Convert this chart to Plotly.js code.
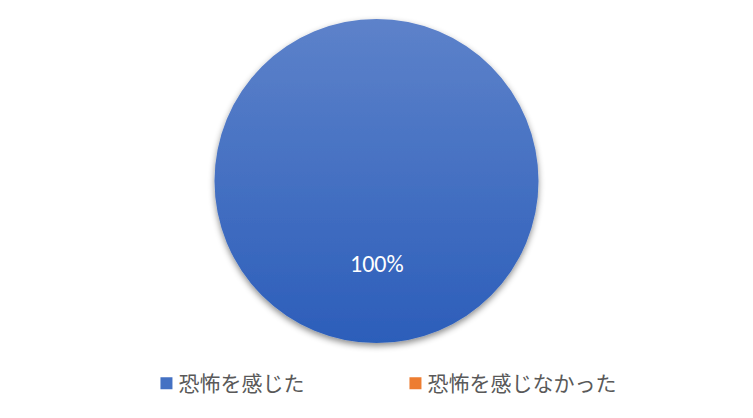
<!DOCTYPE html>
<html>
<head>
<meta charset="utf-8">
<script src="https://cdn.plot.ly/plotly-3.0.1.min.js"></script>
<style>
  html, body { margin: 0; padding: 0; background: #fff; }
  #chart { width: 753px; height: 418px; }
</style>
</head>
<body>
<div id="chart"></div>
<script>
const labels = ['恐怖を感じた', '恐怖を感じなかった']
const values = [100, 0]
const colors = ['#4471c3', '#ed7d31']

const total = values.reduce((a, b) => a + b, 0)
const texts = values.map(v => v > 0 ? Math.round(v / total * 100) + '%' : '')

const trace = {
  type: 'pie',
  labels: labels,
  values: values,
  textinfo: 'none',
  marker: { colors: colors, line: { width: 0 } },
  sort: false,
  direction: 'clockwise',
  rotation: 0,
  hoverinfo: 'none'
}

// Excel places the single 100% label below the centre of the pie
const annotations = texts.filter(t => t).map(t => ({
  text: t,
  xref: 'paper', yref: 'paper',
  x: 0.5, y: 0.244,
  xanchor: 'center', yanchor: 'middle',
  showarrow: false,
  font: { color: '#ffffff', size: 24, family: 'Carlito, "Liberation Sans", "Noto Sans", sans-serif' }
}))

const layout = {
  width: 753,
  height: 418,
  margin: { l: 0, r: 0, t: 19, b: 75 },
  paper_bgcolor: '#ffffff',
  showlegend: true,
  annotations: annotations,
  legend: {
    orientation: 'h',
    x: 0.1945,
    xanchor: 'left',
    y: -0.125,
    yanchor: 'middle',
    entrywidth: 204,
    entrywidthmode: 'pixels',
    traceorder: 'normal',
    font: { size: 21, color: '#595959', family: '"Noto Sans CJK JP", sans-serif' }
  }
}

Plotly.newPlot('chart', [trace], layout, { displayModeBar: false, staticPlot: true }).then(gd => {
  // Excel-style vertical gradient and soft shadow on the slice
  const svg = gd.querySelector('svg.main-svg')
  const ns = 'http://www.w3.org/2000/svg'
  let defs = svg.querySelector('defs')
  if (!defs) { defs = document.createElementNS(ns, 'defs'); svg.insertBefore(defs, svg.firstChild) }
  const grad = document.createElementNS(ns, 'linearGradient')
  grad.setAttribute('id', 'blueGrad')
  grad.setAttribute('x1', '0'); grad.setAttribute('y1', '0')
  grad.setAttribute('x2', '0'); grad.setAttribute('y2', '1')
  ;[['0', '#5d82ca'], ['1', '#2c5eba']].forEach(([o, c]) => {
    const s = document.createElementNS(ns, 'stop')
    s.setAttribute('offset', o); s.setAttribute('stop-color', c)
    grad.appendChild(s)
  })
  defs.appendChild(grad)
  const filt = document.createElementNS(ns, 'filter')
  filt.setAttribute('id', 'pieShadow')
  filt.setAttribute('x', '-10%'); filt.setAttribute('y', '-10%')
  filt.setAttribute('width', '120%'); filt.setAttribute('height', '120%')
  filt.innerHTML = '<feDropShadow dx="0" dy="3" stdDeviation="3" flood-color="#000" flood-opacity="0.45"/>'
  defs.appendChild(filt)
  const slices = gd.querySelectorAll('.slice path.surface')
  if (slices[0]) {
    slices[0].style.fill = 'url(#blueGrad)'
    slices[0].setAttribute('filter', 'url(#pieShadow)')
  }
  // tighter gap between legend swatch and label, like the original
  gd.querySelectorAll('.legend .legendtext').forEach(t => t.setAttribute('x', 32))
})
</script>
</body>
</html>
